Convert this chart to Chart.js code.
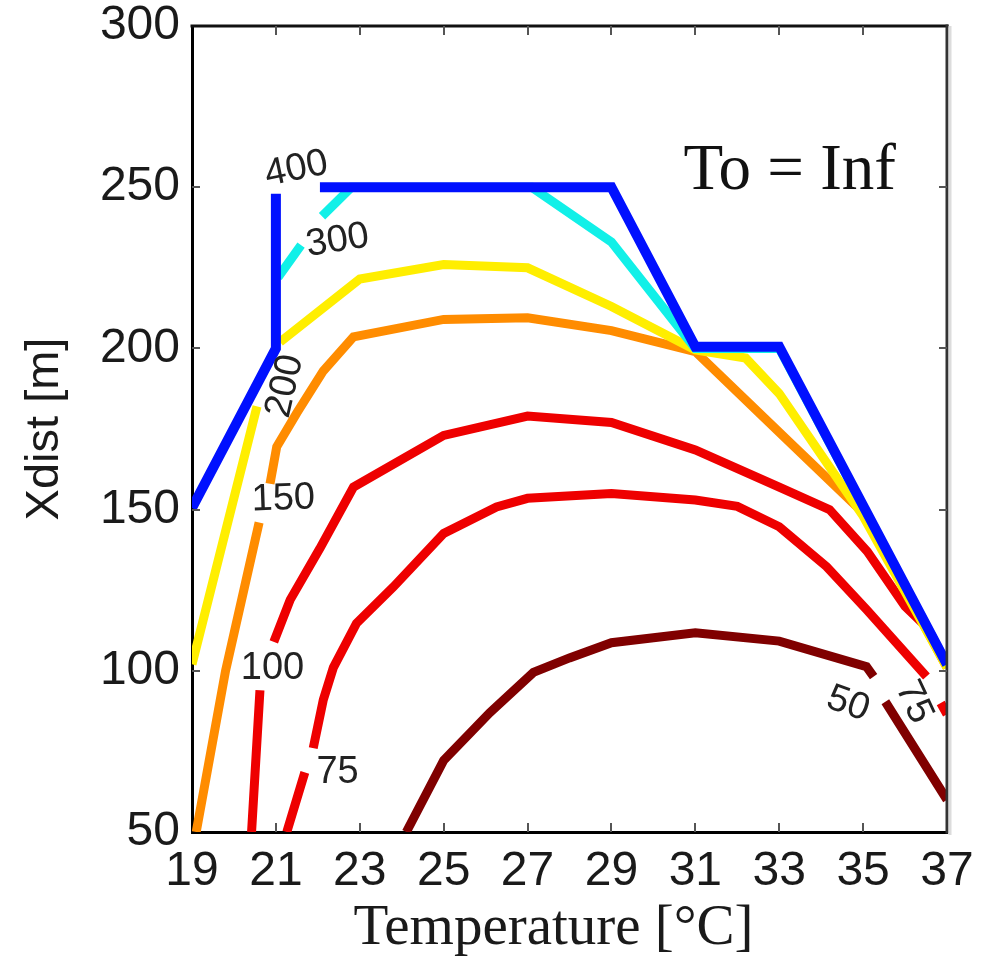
<!DOCTYPE html>
<html>
<head>
<meta charset="utf-8">
<script src="https://cdn.jsdelivr.net/npm/chart.js@4.4.1/dist/chart.umd.min.js"></script>
<style>
  html, body { margin: 0; padding: 0; background: #fff; }
</style>
</head>
<body>
<canvas id="chart" width="997" height="960"></canvas>
<script>
// contour lines, [temperature, xdist] per vertex; null = gap where the inline label sits
const level400 = [[19, 150.5], [21, 200], [21, 248], null, [22.05, 250], [29, 250], [31, 200.5], [33, 200.5], [37, 102]];
const level300 = [[21.05, 222], [21.6, 232], null, [22.1, 241], [22.8, 250], [27.1, 250], [29, 233], [31, 200], [33, 200], [37, 102]];
const level200 = [[19, 102], [20.55, 182], null, [21.1, 202], [23, 221.5], [25, 226], [27, 225], [29, 213], [31, 199.5], [32.2, 197], [33, 186], [35, 148], [37, 101]];
const level150 = [[19.1, 50], [19.8, 100], [20.6, 146], null, [20.86, 158], [21.02, 169.5], [21.5, 180], [22.13, 193], [22.85, 203.6], [25, 209], [27, 209.5], [29, 205.5], [31, 199], [33, 174], [35, 149], [37, 101]];
const level100 = [[20.42, 50], [20.62, 94], null, [20.95, 109], [21.34, 122], [22.05, 138], [22.85, 157], [25, 173], [27, 179], [29, 177], [31, 168.5], [33, 157], [34.2, 150], [35.1, 137], [36, 120], [36.4, 115]];
const level75 = [[21.26, 50], [21.69, 68.5], null, [21.89, 76], [22.13, 91], [22.37, 101], [22.92, 114.7], [23.8, 126], [25, 142.6], [26.26, 150.8], [27, 153.5], [29, 155], [31, 153], [32, 151], [33, 144.7], [34.13, 132.3], [35.08, 119], [36.51, 98.2], null, [36.85, 90], [37, 86.5]];
const level50 = [[24.11, 50], [25, 72.2], [26.1, 87], [27.14, 99.5], [28, 104], [29, 108.7], [31, 111.8], [33, 109.2], [35.08, 101.3], [35.25, 98.2], null, [35.53, 90.4], [37, 60]];

// inline contour labels
const labelText = ['400', '300', '200', '150', '100', '75', '50', '75'];
const labelX = [21.49, 22.47, 21.22, 21.18, 20.92, 22.47, 34.64, 36.21];
const labelY = [255.6, 233.4, 188.3, 153.3, 100.6, 68.3, 89.7, 90.3];

// axis ticks
const xTicks = [19, 21, 23, 25, 27, 29, 31, 33, 35, 37];
const yTicks = [50, 100, 150, 200, 250, 300];

function toPoints(arr) {
    const out = [];
    let lastX = arr[0][0];
    arr.forEach(p => {
        if (p) {
            out.push({ x: p[0], y: p[1] });
            lastX = p[0];
        } else {
            out.push({ x: lastX, y: null });
        }
    });
    return out;
}

function line(arr, color, width) {
    return {
        data: toPoints(arr),
        borderColor: color,
        borderWidth: width,
        borderCapStyle: 'butt',
        borderJoinStyle: 'miter',
        pointRadius: 0,
        tension: 0,
        spanGaps: false,
        fill: false,
    };
}

// first dataset is painted last (on top)
const datasets = [
    line(level400, '#0010ff', 10),
    line(level300, '#11f0e8', 9),
    line(level200, '#ffee00', 9),
    line(level150, '#ff8c00', 9),
    line(level100, '#ee0000', 9),
    line(level75, '#ee0000', 9),
    line(level50, '#800000', 9),
];

const labelAngles = [-12, -9, -77, -2, 0, 0, 20, 65];

const contourLabels = {
    id: 'contourLabels',
    afterDatasetsDraw(chart) {
        const { ctx, scales: { x, y } } = chart;
        ctx.save();
        ctx.font = '38px "Liberation Sans", Arial, sans-serif';
        ctx.fillStyle = '#222';
        ctx.textAlign = 'center';
        ctx.textBaseline = 'middle';
        labelText.forEach((t, i) => {
            ctx.save();
            ctx.translate(x.getPixelForValue(labelX[i]), y.getPixelForValue(labelY[i]));
            ctx.rotate(labelAngles[i] * Math.PI / 180);
            ctx.fillText(t, 0, 0);
            ctx.restore();
        });

        // annotation
        ctx.font = '65px "Liberation Serif", "Times New Roman", serif';
        ctx.fillStyle = '#111';
        ctx.textBaseline = 'alphabetic';
        ctx.fillText('To = Inf', x.getPixelForValue(33.25), y.getPixelForValue(249.5));
        ctx.restore();
    }
};

const frame = {
    id: 'frame',
    afterDraw(chart) {
        const { ctx, chartArea: a, scales: { x, y } } = chart;
        ctx.save();
        // top edge
        ctx.fillStyle = '#111';
        ctx.fillRect(a.left - 1.5, a.top - 1.5, a.right - a.left + 3, 3);
        // right edge
        ctx.fillStyle = '#333';
        ctx.fillRect(a.right - 1.5, a.top - 1.5, 3, a.bottom - a.top + 3);
        ctx.fillStyle = '#dcdcdc';
        ctx.fillRect(a.right + 1.5, a.top, 3, a.bottom - a.top + 3);

        // inward tick marks on all four sides
        ctx.strokeStyle = '#555';
        ctx.lineWidth = 2;
        ctx.beginPath();
        xTicks.slice(1, -1).forEach(v => {
            const px = Math.round(x.getPixelForValue(v));
            ctx.moveTo(px, a.bottom);
            ctx.lineTo(px, a.bottom - 9);
            ctx.moveTo(px, a.top);
            ctx.lineTo(px, a.top + 9);
        });
        yTicks.slice(1, -1).forEach(v => {
            const py = Math.round(y.getPixelForValue(v));
            ctx.moveTo(a.left, py);
            ctx.lineTo(a.left + 8, py);
            ctx.moveTo(a.right, py);
            ctx.lineTo(a.right - 8, py);
        });
        ctx.stroke();

        // x axis title, a bit left of the plot centre as in the source
        ctx.font = '57px "Liberation Serif", "Times New Roman", serif';
        ctx.fillStyle = '#1a1a1a';
        ctx.textAlign = 'center';
        ctx.textBaseline = 'middle';
        ctx.fillText('Temperature [°C]', (a.left + a.right) / 2 - 16, 929);
        ctx.restore();
    }
};

new Chart(document.getElementById('chart'), {
    type: 'line',
    data: { datasets },
    options: {
        responsive: false,
        animation: false,
        events: [],
        layout: { padding: { left: 0, right: 50, top: 26, bottom: 0 } },
        plugins: {
            legend: { display: false },
            tooltip: { enabled: false },
        },
        scales: {
            x: {
                type: 'linear',
                min: 19,
                max: 37,
                z: 1,
                afterBuildTicks: s => { s.ticks = xTicks.map(v => ({ value: v })); },
                afterFit: s => { s.height = 128; s.paddingLeft = 0; s.paddingRight = 0; },
                grid: { display: false, drawTicks: false },
                border: { display: true, color: '#000', width: 3 },
                ticks: {
                    padding: 16,
                    color: '#1a1a1a',
                    maxRotation: 0,
                    autoSkip: false,
                    font: { family: '"Liberation Sans", Arial, sans-serif', size: 48, lineHeight: 1 },
                },
            },
            y: {
                type: 'linear',
                min: 50,
                max: 300,
                z: 1,
                afterBuildTicks: s => { s.ticks = yTicks.map(v => ({ value: v })); },
                afterFit: s => { s.width = 192; s.paddingTop = 0; s.paddingBottom = 0; },
                grid: { display: false, drawTicks: false },
                border: { display: true, color: '#000', width: 3 },
                ticks: {
                    padding: 12,
                    color: '#1a1a1a',
                    autoSkip: false,
                    font: { family: '"Liberation Sans", Arial, sans-serif', size: 48, lineHeight: 1 },
                },
                title: {
                    display: true,
                    text: 'Xdist [m]',
                    color: '#1a1a1a',
                    font: { family: '"Liberation Sans", Arial, sans-serif', size: 47, lineHeight: 1.2 },
                    padding: { top: 17, bottom: 0 },
                },
            },
        },
    },
    plugins: [contourLabels, frame],
});
</script>
</body>
</html>
